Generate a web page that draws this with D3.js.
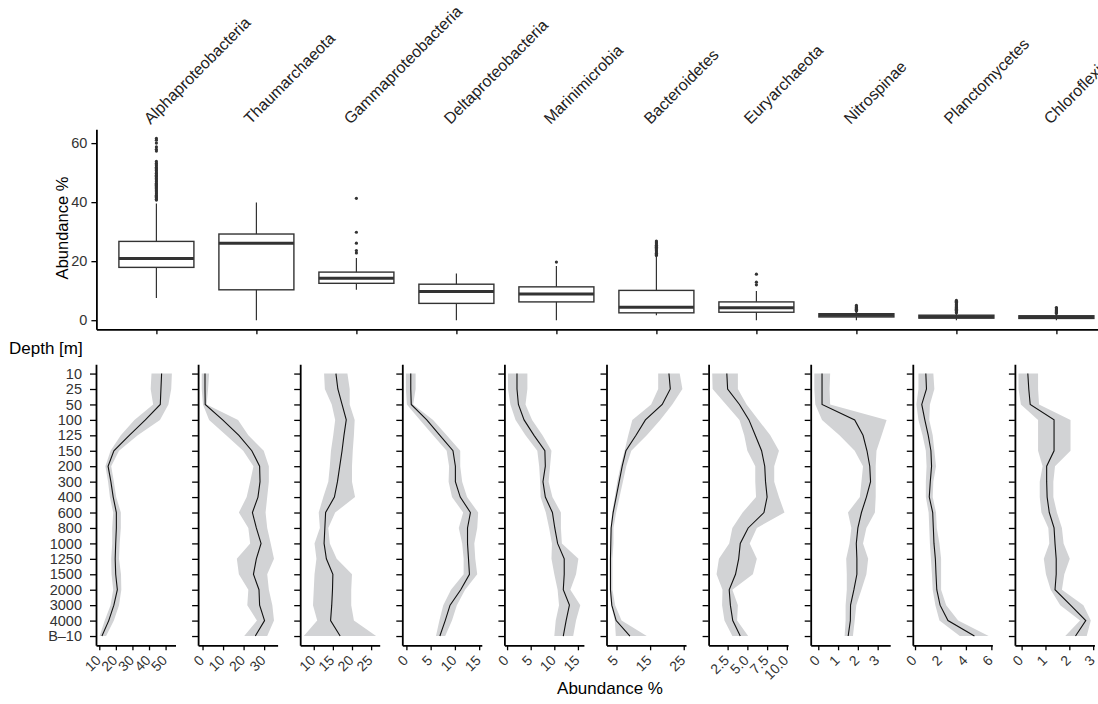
<!DOCTYPE html>
<html>
<head>
<meta charset="utf-8">
<script src="https://cdn.jsdelivr.net/npm/d3@7"></script>
<style>
body { margin: 0; background: #fff; }
svg { font-family: 'Liberation Sans', Arial, sans-serif; }
.axis .domain { stroke: #000; stroke-width: 1.8px; }
.axis .tick line { stroke: #000; stroke-width: 1.3px; }
.axis .tick text { fill: #333; }
</style>
</head>
<body>
<div id="chart"></div>
<script>
var taxa = ['Alphaproteobacteria', 'Thaumarchaeota', 'Gammaproteobacteria', 'Deltaproteobacteria',
	'Marinimicrobia', 'Bacteroidetes', 'Euryarchaeota', 'Nitrospinae', 'Planctomycetes', 'Chloroflexi'];

var depths = ['10', '25', '50', '100', '125', '150', '200', '300', '400', '600', '800',
	'1000', '1250', '1500', '2000', '3000', '4000', 'B\u201310'];

// boxplot summary per taxon
var boxLow    = [7.5, 0, 10.3, 0, 0, 1.7, 0, 0, 0, 0];
var boxQ1     = [17.9, 10.3, 12.5, 5.7, 6.2, 2.5, 2.7, 1.1, 0.7, 0.6];
var boxMedian = [20.9, 26.1, 14.2, 9.7, 8.9, 4.4, 4.2, 1.7, 1.2, 1.0];
var boxQ3     = [26.7, 29.2, 16.3, 12.2, 11.3, 10.1, 6.2, 2.2, 1.7, 1.5];
var boxHigh   = [39.5, 39.9, 21.1, 15.8, 18.4, 21.6, 9.9, 2.9, 2.4, 2.1];

var alphaOut = [40.7, 41.0, 41.4, 41.6, 42.0, 42.3, 42.8, 43.1, 43.5, 43.9, 44.2, 44.6, 45.0, 45.3,
	45.7, 46.1, 46.4, 46.9, 47.2, 47.6, 48.0, 48.3, 48.8, 49.1, 49.5, 49.8, 50.2, 50.7, 51.0, 51.4,
	51.8, 52.3, 52.7, 53.2, 53.8, 57.3, 57.9, 58.7, 60.0, 61.0, 61.6];
var thaumOut = [];
var gammaOut = [22.8, 23.6, 26.1, 29.8, 41.3];
var deltaOut = [];
var mariniOut = [19.7];
var bactOut = [21.9, 22.3, 22.7, 23.1, 23.5, 23.9, 24.3, 24.7, 25.0, 25.4, 25.8, 26.2, 26.5, 26.8];
var euryOut = [12.0, 12.9, 15.6];
var nitroOut = [3.1, 3.4, 3.7, 4.0, 4.3, 4.6, 5.0];
var planctoOut = [2.5, 2.8, 3.1, 3.4, 3.7, 4.0, 4.3, 4.6, 4.9, 5.2, 5.5, 5.8, 6.1, 6.4, 6.7];
var chloroOut = [2.3, 2.6, 2.9, 3.2, 3.5, 3.8, 4.1, 4.3];

var boxTicks = [0, 20, 40, 60];

// depth profiles: mean line and ribbon bounds
var alphaMean = [47.6, 47.2, 46.8, 37.8, 28.1, 18.8, 15.3, 17.0, 18.4, 20.3, 20.3, 19.9, 19.6, 19.9, 20.9, 18.8, 15.7, 11.6];
var alphaLow  = [41.5, 41.0, 42.5, 31.2, 23.0, 16.8, 13.7, 15.3, 16.4, 18.4, 17.8, 17.8, 17.2, 17.4, 18.4, 16.8, 13.3, 10.2];
var alphaHigh = [53.8, 53.4, 51.7, 46.6, 33.2, 21.9, 17.2, 18.8, 20.2, 23.0, 23.0, 22.3, 21.9, 23.1, 23.3, 21.9, 18.8, 14.1];

var thaumMean = [1.2, 1.2, 1.3, 9.8, 17.7, 24.0, 27.8, 28.0, 27.0, 24.3, 26.2, 28.5, 26.2, 24.8, 27.5, 27.8, 30.2, 25.7];
var thaumLow  = [-0.4, -0.4, 0.2, 3.2, 11.5, 19.8, 24.8, 23.2, 21.5, 17.7, 22.3, 23.2, 16.7, 17.7, 22.3, 21.8, 26.5, 20.3];
var thaumHigh = [3.2, 2.7, 2.0, 17.3, 22.3, 29.8, 32.3, 32.3, 31.5, 30.7, 31.5, 33.2, 34.8, 31.5, 32.3, 34.0, 34.8, 31.5];

var gammaMean = [15.8, 16.3, 17.4, 18.5, 17.9, 17.4, 16.8, 16.2, 15.4, 13.1, 12.9, 12.7, 13.3, 15.0, 14.9, 14.7, 14.4, 16.9];
var gammaLow  = [12.7, 12.9, 14.7, 15.6, 15.1, 14.5, 14.2, 13.8, 12.5, 11.3, 11.6, 10.2, 10.7, 10.2, 10.0, 9.8, 10.9, 7.4];
var gammaHigh = [18.8, 19.4, 19.4, 20.7, 20.5, 20.2, 20.0, 20.0, 20.8, 15.6, 13.8, 14.2, 16.0, 20.0, 19.8, 19.8, 20.5, 26.3];

var deltaMean = [0.9, 0.9, 1.0, 4.2, 6.9, 9.6, 10.1, 10.1, 11.1, 13.2, 12.6, 12.6, 12.8, 13.0, 11.2, 9.0, 8.0, 6.9];
var deltaLow  = [-0.1, -0.1, 0.1, 2.8, 5.5, 8.3, 8.8, 8.7, 9.4, 11.7, 10.8, 11.5, 11.8, 11.8, 9.2, 7.6, 6.8, 6.1];
var deltaHigh = [1.9, 1.9, 1.4, 5.5, 8.3, 11.1, 11.1, 11.5, 12.5, 14.8, 14.6, 14.0, 14.2, 14.6, 12.1, 10.4, 9.4, 8.0];

var mariniMean = [2.1, 2.1, 2.4, 3.6, 5.7, 8.0, 8.1, 7.6, 8.1, 9.6, 10.1, 10.7, 12.1, 12.1, 11.9, 13.2, 12.5, 11.9];
var mariniLow  = [0.2, 0.2, 0.7, 1.8, 3.9, 6.4, 6.8, 7.0, 7.1, 8.2, 8.9, 9.5, 9.4, 10.0, 10.7, 11.0, 10.3, 10.0];
var mariniHigh = [4.3, 4.3, 3.9, 5.3, 7.5, 9.4, 9.1, 8.8, 9.6, 11.4, 11.4, 11.6, 15.1, 14.6, 13.4, 15.5, 14.6, 14.0];

var bactMean = [20.6, 21.0, 18.6, 13.6, 10.8, 7.8, 6.7, 5.8, 4.9, 4.0, 3.4, 3.3, 3.2, 3.2, 3.2, 3.6, 4.9, 9.0];
var bactLow  = [17.4, 17.4, 15.3, 9.7, 8.5, 7.4, 6.2, 5.2, 4.5, 3.7, 3.3, 3.2, 3.1, 3.1, 3.1, 3.4, 4.5, 4.8];
var bactHigh = [23.8, 24.6, 21.6, 18.0, 14.0, 9.4, 7.9, 6.9, 5.9, 4.9, 4.1, 4.1, 3.8, 3.8, 3.8, 4.6, 6.5, 14.0];

var euryMean = [2.4, 2.5, 4.0, 5.2, 6.0, 6.8, 7.2, 7.3, 7.5, 7.1, 5.1, 4.1, 3.9, 3.5, 2.7, 2.85, 3.15, 4.1];
var euryLow  = [0.55, 0.6, 2.3, 4.0, 4.6, 5.0, 6.0, 6.0, 6.1, 4.4, 3.1, 2.7, 1.4, 1.1, 1.85, 1.8, 2.1, 3.1];
var euryHigh = [3.8, 3.8, 4.9, 6.4, 7.9, 9.0, 8.4, 8.4, 9.0, 9.7, 6.2, 5.3, 6.2, 5.7, 3.1, 3.8, 3.7, 5.1];

var nitroMean = [0.19, 0.19, 0.19, 1.84, 2.26, 2.46, 2.6, 2.64, 2.43, 2.18, 2.0, 1.92, 1.95, 1.95, 1.8, 1.63, 1.62, 1.51];
var nitroLow  = [-0.2, -0.2, -0.15, 0.19, 1.07, 1.84, 2.26, 2.18, 2.1, 1.5, 1.67, 1.58, 1.41, 1.44, 1.44, 1.38, 1.38, 1.33];
var nitroHigh = [0.6, 0.57, 0.6, 3.45, 3.2, 2.94, 2.9, 2.9, 2.9, 2.86, 2.43, 2.26, 2.52, 2.43, 2.18, 1.92, 1.84, 1.75];

var planctoMean = [0.85, 0.9, 0.53, 0.77, 1.04, 1.25, 1.3, 1.2, 1.12, 1.39, 1.44, 1.49, 1.6, 1.65, 1.71, 1.97, 2.59, 4.67];
var planctoLow  = [0.27, 0.27, 0.11, 0.27, 0.59, 0.85, 0.91, 0.85, 0.85, 1.07, 1.12, 1.17, 1.25, 1.33, 1.39, 1.6, 1.92, 3.52];
var planctoHigh = [1.44, 1.52, 1.17, 1.12, 1.39, 1.52, 1.65, 1.44, 1.39, 1.65, 1.71, 1.92, 2.05, 2.05, 2.05, 2.45, 3.39, 5.79];

var chloroMean = [0.26, 0.3, 0.36, 1.36, 1.36, 1.36, 1.05, 1.05, 1.07, 1.16, 1.36, 1.4, 1.45, 1.45, 1.4, 2.05, 2.69, 2.26];
var chloroLow  = [-0.13, -0.13, -0.03, 0.69, 0.69, 0.69, 0.88, 0.76, 0.76, 0.83, 1.12, 1.16, 0.93, 1.02, 1.22, 1.62, 2.45, 1.83];
var chloroHigh = [0.69, 0.69, 0.73, 2.05, 2.05, 2.05, 1.4, 1.33, 1.33, 1.48, 1.69, 1.76, 2.02, 1.79, 1.69, 2.59, 2.9, 2.73];

var profileTicks = [[10, 20, 30, 40, 50], [0, 10, 20, 30], [10, 15, 20, 25], [0, 5, 10, 15], [0, 5, 10, 15],
	[5, 15, 25], [2.5, 5, 7.5, 10], [0, 1, 2, 3], [0, 2, 4, 6], [0, 1, 2, 3]];
var profileFormats = ['d', 'd', 'd', 'd', 'd', 'd', '.1f', 'd', 'd', 'd'];

var outliers = [alphaOut, thaumOut, gammaOut, deltaOut, mariniOut, bactOut, euryOut, nitroOut, planctoOut, chloroOut];
var profiles = [
	[alphaMean, alphaLow, alphaHigh], [thaumMean, thaumLow, thaumHigh], [gammaMean, gammaLow, gammaHigh],
	[deltaMean, deltaLow, deltaHigh], [mariniMean, mariniLow, mariniHigh], [bactMean, bactLow, bactHigh],
	[euryMean, euryLow, euryHigh], [nitroMean, nitroLow, nitroHigh], [planctoMean, planctoLow, planctoHigh],
	[chloroMean, chloroLow, chloroHigh]
];

var width = 1098, height = 704;

var svg = d3.select('#chart').append('svg')
	.attr('width', width)
	.attr('height', height);

// ggplot-like 5% padding on continuous scales
function expand(ext) {
	var pad = (ext[1] - ext[0]) * 0.05;
	return [ext[0] - pad, ext[1] + pad];
}

// ---------- top: boxplots ----------
var box = {left: 96.4, right: 1116.4, top: 129.3, bottom: 329.3};

var xBox = d3.scalePoint()
	.domain(taxa)
	.range([box.left, box.right])
	.padding(0.6);

var allBoxVals = d3.merge([boxLow, boxHigh, d3.merge(outliers)]);
var yBox = d3.scaleLinear()
	.domain(expand(d3.extent(allBoxVals)))
	.range([box.bottom, box.top]);

svg.append('g')
	.attr('class', 'axis')
	.attr('transform', `translate(${box.left}, 0)`)
	.call(d3.axisLeft(yBox).tickValues(boxTicks).tickSize(5).tickSizeOuter(0).tickPadding(4))
	.selectAll('text')
	.style('font-size', '14.5px');

svg.append('g')
	.attr('class', 'axis')
	.attr('transform', `translate(0, ${box.bottom})`)
	.call(d3.axisBottom(xBox).tickSize(5).tickSizeOuter(0).tickFormat(''));

svg.append('text')
	.attr('transform', 'translate(68, 228) rotate(-90)')
	.attr('text-anchor', 'middle')
	.style('font-size', '16.5px')
	.text('Abundance %');

svg.selectAll('.taxon-label')
	.data(taxa)
	.enter()
	.append('text')
	.attr('class', 'taxon-label')
	.attr('transform', d => `translate(${xBox(d) - 6}, 125) rotate(-45)`)
	.style('font-size', '16px')
	.attr('fill', '#222')
	.text(d => d);

var bw = xBox.step() * 0.75;
var boxes = svg.selectAll('.box')
	.data(taxa)
	.enter()
	.append('g')
	.attr('class', 'box');

// whiskers
boxes.append('line')
	.attr('x1', d => xBox(d)).attr('x2', d => xBox(d))
	.attr('y1', (d, i) => yBox(boxLow[i]))
	.attr('y2', (d, i) => yBox(boxHigh[i]))
	.attr('stroke', '#333')
	.attr('stroke-width', 1.2);

boxes.append('rect')
	.attr('x', d => xBox(d) - bw / 2)
	.attr('width', bw)
	.attr('y', (d, i) => yBox(boxQ3[i]))
	.attr('height', (d, i) => yBox(boxQ1[i]) - yBox(boxQ3[i]))
	.attr('fill', '#fff')
	.attr('stroke', '#333')
	.attr('stroke-width', 1.4);

boxes.append('line')
	.attr('x1', d => xBox(d) - bw / 2).attr('x2', d => xBox(d) + bw / 2)
	.attr('y1', (d, i) => yBox(boxMedian[i]))
	.attr('y2', (d, i) => yBox(boxMedian[i]))
	.attr('stroke', '#333')
	.attr('stroke-width', 3);

boxes.each(function(d, i) {
	d3.select(this).selectAll('circle')
		.data(outliers[i])
		.enter()
		.append('circle')
		.attr('cx', xBox(d))
		.attr('cy', v => yBox(v))
		.attr('r', 1.6)
		.attr('fill', '#333');
});

// ---------- bottom: depth profiles ----------
var panel = {left: 96, step: 102.1, width: 79.5, top: 364.3, bottom: 645.3};

var yDepth = d3.scalePoint()
	.domain(depths)
	.range([panel.top, panel.bottom])
	.padding(0.6);

svg.append('text')
	.attr('x', 9)
	.attr('y', 354)
	.style('font-size', '17px')
	.text('Depth [m]');

profiles.forEach(function(p, i) {
	var rows = depths.map((dep, j) => ({depth: dep, mean: p[0][j], low: p[1][j], high: p[2][j]}));

	var x = d3.scaleLinear()
		.domain(expand(d3.extent(d3.merge(p))))
		.range([0, panel.width]);

	var g = svg.append('g')
		.attr('transform', `translate(${panel.left + i * panel.step}, 0)`);

	g.append('path')
		.datum(rows)
		.attr('fill', '#d2d3d5')
		.attr('d', d3.area()
			.y(d => yDepth(d.depth))
			.x0(d => x(d.low))
			.x1(d => x(d.high)));

	g.append('path')
		.datum(rows)
		.attr('fill', 'none')
		.attr('stroke', '#111')
		.attr('stroke-width', 1.1)
		.attr('d', d3.line()
			.x(d => x(d.mean))
			.y(d => yDepth(d.depth)));

	var yAxis = d3.axisLeft(yDepth).tickSize(6).tickSizeOuter(0).tickPadding(8);
	if (i > 0) yAxis.tickFormat('');
	g.append('g')
		.attr('class', 'axis')
		.call(yAxis)
		.selectAll('text')
		.style('font-size', '14.5px');

	var xAxis = d3.axisBottom(x)
		.tickValues(profileTicks[i])
		.tickFormat(d3.format(profileFormats[i]))
		.tickSize(5)
		.tickSizeOuter(0);

	g.append('g')
		.attr('class', 'axis')
		.attr('transform', `translate(0, ${panel.bottom})`)
		.call(xAxis)
		.selectAll('text')
		.attr('x', 0).attr('y', 0).attr('dy', 0)
		.attr('text-anchor', 'end')
		.attr('transform', 'translate(2, 16) rotate(-45)')
		.style('font-size', '14px');
});

svg.append('text')
	.attr('x', 610)
	.attr('y', 694)
	.attr('text-anchor', 'middle')
	.style('font-size', '17px')
	.text('Abundance %');
</script>
</body>
</html>
